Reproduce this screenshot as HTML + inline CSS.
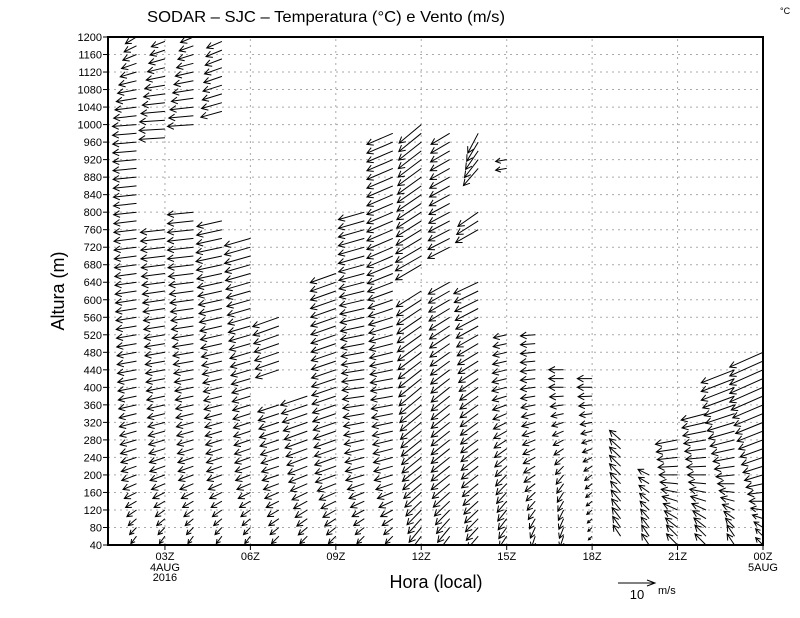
<!DOCTYPE html>
<html><head><meta charset="utf-8"><style>
body{margin:0;background:#fff;}
svg{display:block;font-family:"Liberation Sans",sans-serif;}
</style></head><body>
<svg id="chart" width="800" height="618" viewBox="0 0 800 618" xmlns="http://www.w3.org/2000/svg">
<defs><clipPath id="plotclip"><rect x="108" y="37" width="655" height="508"/></clipPath></defs>
<rect x="0" y="0" width="800" height="618" fill="#fff"/>
<g id="grid"></g>
<g id="vectors" stroke="#000" stroke-width="1" fill="none" clip-path="url(#plotclip)"></g>
<rect x="108" y="37" width="655" height="508" fill="none" stroke="#000" stroke-width="2"/>
<g id="yticks" font-size="11" text-anchor="end"></g>
<g id="xticks" font-size="11" text-anchor="middle"></g>
<text x="147" y="22" font-size="16" textLength="358" lengthAdjust="spacingAndGlyphs">SODAR – SJC – Temperatura (°C) e Vento (m/s)</text>
<text x="780" y="14" font-size="9">°C</text>
<text transform="translate(64,291) rotate(-90)" font-size="18" text-anchor="middle">Altura (m)</text>
<text x="436" y="588" font-size="18" text-anchor="middle">Hora (local)</text>
<g>
<line x1="618" y1="583" x2="655" y2="583" stroke="#000"/>
<polyline points="647,580 655,583 647,586" fill="none" stroke="#000"/>
<text x="637" y="599" font-size="13" text-anchor="middle">10</text>
<text x="658" y="594" font-size="11">m/s</text>
</g>
</svg>
<script>
// time columns (hour index), vertical segments and wind components (m/s) at anchor heights
const anchorHeights = [60, 200, 400, 700, 1000, 1200];
const columnHours = [1,2,3,4,5,6,7,8,9,10,11,12,13,14,15,16,17,18,19,20,21,22,23,24];
const columnSegments = [
 [[40,100]],
 [[40,1200]],
 [[40,770],[970,1200]],
 [[40,810],[1000,1200]],
 [[40,780],[1030,1200]],
 [[40,740]],
 [[40,370],[440,570]],
 [[40,390]],
 [[40,660]],
 [[40,800]],
 [[40,980]],
 [[40,620],[680,1000]],
 [[40,650],[720,980]],
 [[40,650],[760,800],[900,980]],
 [[40,520],[900,920]],
 [[40,520]],
 [[40,440]],
 [[40,420]],
 [[60,280]],
 [[40,200]],
 [[40,290]],
 [[40,350]],
 [[40,450]],
 [[40,480]]
];
const windU = [
 [-2,-2,-2,-2,-2,-2],
 [-1.5,-4,-5,-6,-6.5,-3],
 [-1.5,-4,-5,-6.5,-7,-3.5],
 [-1.5,-4,-5,-7,-7,-3.5],
 [-1.5,-4,-5,-7,-6,-4],
 [-1.5,-4,-5,-7,-7,-7],
 [-2,-4.5,-6,-8,-8,-8],
 [-2,-5,-7.5,-7.5,-7.5,-7.5],
 [-2,-5.5,-6.5,-7,-7,-7],
 [-2,-5,-6,-7,-7,-7],
 [-2,-5,-6,-7,-7,-7],
 [-3,-5,-6,-7,-6,-6],
 [-3,-5,-5,-6,-5,-5],
 [-3,-4.5,-5,-7,-2.5,-2.5],
 [-2,-3,-4,-3,-3,-3],
 [-1,-3,-4,-4,-4,-4],
 [-1,-2,-4,-4,-4,-4],
 [-1,-2,-4,-4,-4,-4],
 [-2,-3,-3,-3,-3,-3],
 [-2,-3,-3,-3,-3,-3],
 [-3,-5,-7.5,-7.5,-7.5,-7.5],
 [-3,-5,-7.5,-7.5,-7.5,-7.5],
 [-2,-5,-9,-9,-9,-9],
 [-2,-5,-9,-9,-9,-9]
];
const windV = [
 [1,1,1,1,1,1],
 [-2,-1.5,-1,-0.8,-0.5,-1.8],
 [-2,-1.5,-1,-0.8,-0.4,-1.5],
 [-2,-1.5,-1,-0.8,-0.5,-1.5],
 [-2,-1.5,-1.2,-1.5,-1.5,-1.8],
 [-2,-1.5,-1.5,-2,-2,-2],
 [-2,-1.5,-2,-3,-3,-3],
 [-2,-2,-2.5,-2.5,-2.5,-2.5],
 [-2,-2,-2.2,-2.5,-2.5,-2.5],
 [-2,-1.5,-0.8,-2,-2,-2],
 [-2,-1.5,-1,-3,-3,-3],
 [-4,-4,-5,-4,-5,-5],
 [-4,-4,-4,-3,-3,-3],
 [-3.5,-3.5,-3.5,-3,-5.5,-5.5],
 [-3,-3,-1,-0.5,-0.5,-0.5],
 [-3,-2,-0.5,0,0,0],
 [-3,-2.5,0,0,0,0],
 [-1,-1.5,0,0,0,0],
 [3,3,2,2,2,2],
 [3,1.5,1,1,1,1],
 [3,0,-3,-3,-3,-3],
 [3,0,-2.5,-2.5,-2.5,-2.5],
 [3,-0.5,-3.5,-3.5,-3.5,-3.5],
 [2,-1.5,-4,-4,-4,-4]
];
const yTickLabels = [];
for (let h = 40; h <= 1200; h += 40) yTickLabels.push(h);
const xTickHours = [3,6,9,12,15,18,21,24];
const xTickLabels = ["03Z","06Z","09Z","12Z","15Z","18Z","21Z","00Z"];
const levelStep = 20;

const NS = "http://www.w3.org/2000/svg";
const XL = 108, XR = 763, Y0 = 545, Y1 = 37;
const xScale = h => 79.5 + (763 - 79.5) * h / 24;
const yScale = a => Y0 - (Y0 - Y1) * (a - 40) / 1160;
const PXMS = 3.7;
function el(tag, attrs, parent) { const e = document.createElementNS(NS, tag); for (const k in attrs) e.setAttribute(k, attrs[k]); parent.appendChild(e); return e; }
function interp(arr, h) {
  if (h <= anchorHeights[0]) return arr[0];
  for (let i = 1; i < anchorHeights.length; i++) {
    if (h <= anchorHeights[i]) { const t = (h - anchorHeights[i-1]) / (anchorHeights[i] - anchorHeights[i-1]); return arr[i-1] + t * (arr[i] - arr[i-1]); }
  }
  return arr[arr.length - 1];
}
const grid = document.getElementById('grid');
const yt = document.getElementById('yticks');
yTickLabels.forEach(v => {
  const y = yScale(v);
  const l = el('line', {x1: XL, x2: XR, y1: y, y2: y, stroke: '#aaa', 'stroke-dasharray': '2,4'}, grid);
  
  
  const tk = el('line', {x1: XL - 5, x2: XL, y1: y, y2: y, stroke: '#000'}, yt);
  
  
  const t = el('text', {x: 102, y: y + 4}, yt);
  
  
  t.textContent = v;
});
const xt = document.getElementById('xticks');
xTickHours.forEach((h, i) => {
  const x = xScale(h);
  const l = el('line', {x1: x, x2: x, y1: Y0, y2: Y1, stroke: '#aaa', 'stroke-dasharray': '2,4'}, grid);
  
  
  const tk = el('line', {x1: x, x2: x, y1: Y0, y2: Y0 + 5, stroke: '#000'}, xt);
  
  
  const t = el('text', {x: x, y: 560}, xt);
  
  
  t.textContent = xTickLabels[i];
});
const d1 = el('text', {x: xScale(3), y: 571}, xt); d1.textContent = "4AUG";


const d2 = el('text', {x: xScale(3), y: 581}, xt); d2.textContent = "2016";


const d3 = el('text', {x: xScale(24), y: 571}, xt); d3.textContent = "5AUG";



const vg = document.getElementById('vectors');
columnHours.forEach((hr, ci) => {
  const x = xScale(hr);
  columnSegments[ci].forEach(seg => {
    for (let a = seg[0]; a <= seg[1]; a += levelStep) {
      const u = interp(windU[ci], a), v = interp(windV[ci], a);
      const y = yScale(a);
      const dx = u * PXMS, dy = -v * PXMS;
      const hx = x + dx, hy = y + dy;
      const len = Math.hypot(dx, dy) || 1;
      const ux = dx / len, uy = dy / len;
      const hl = Math.min(7, len * 0.5);
      const c = Math.cos(0.5), s = Math.sin(0.5);
      const ax = hx - hl * (ux * c - uy * s), ay = hy - hl * (uy * c + ux * s);
      const bx = hx - hl * (ux * c + uy * s), by = hy - hl * (uy * c - ux * s);
      const p = el('path', {d: `M${x.toFixed(1)},${y.toFixed(1)}L${hx.toFixed(1)},${hy.toFixed(1)}M${ax.toFixed(1)},${ay.toFixed(1)}L${hx.toFixed(1)},${hy.toFixed(1)}L${bx.toFixed(1)},${by.toFixed(1)}`}, vg);
      
      
    }
  });
});
</script>
</body></html>
